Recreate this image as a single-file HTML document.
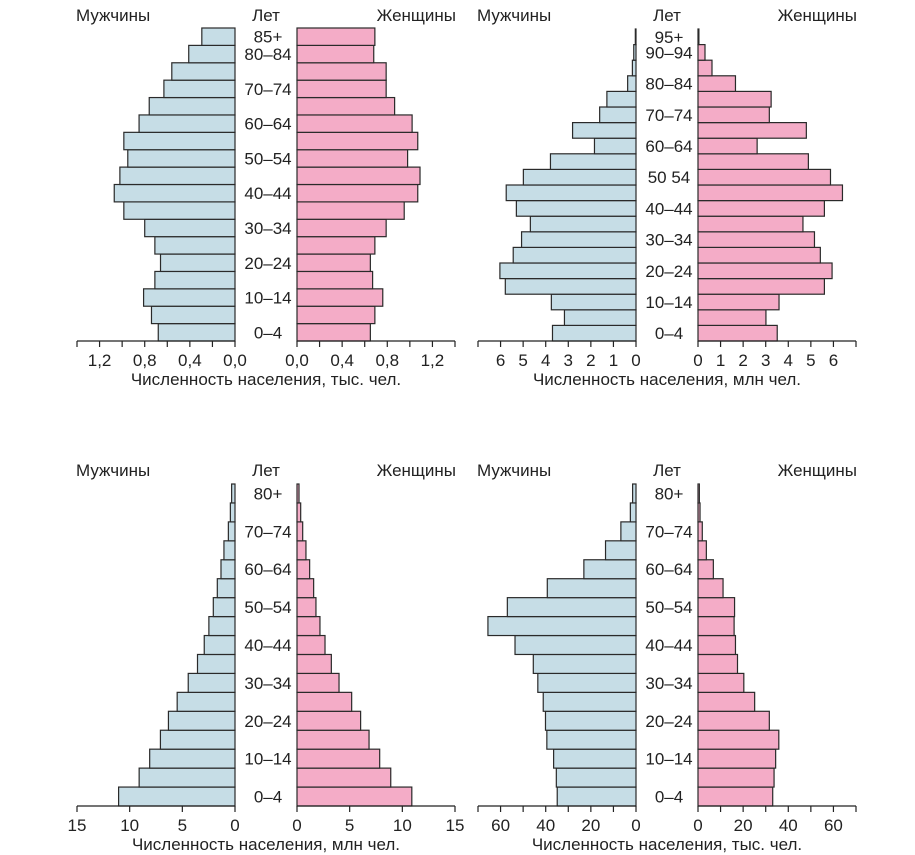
<!DOCTYPE html>
<html><head><meta charset="utf-8">
<style>
html,body{margin:0;padding:0;background:#fff;}
svg{display:block;font-family:"Liberation Sans","DejaVu Sans",sans-serif;}
text{fill:#222;}
</style></head>
<body>
<svg id="chart" width="915" height="855" viewBox="0 0 915 855" xmlns="http://www.w3.org/2000/svg"></svg>
<script>
// ---- Chart 1 data (18 age groups, youngest first), thousands
const c1Male = [0.68,0.74,0.81,0.71,0.66,0.71,0.80,0.985,1.07,1.02,0.95,0.985,0.85,0.76,0.63,0.56,0.41,0.294];
const c1Female = [0.65,0.69,0.76,0.67,0.65,0.69,0.79,0.95,1.07,1.09,0.98,1.07,1.02,0.865,0.79,0.79,0.68,0.69];
const c1AgeLabels = ["0–4","","10–14","","20–24","","30–34","","40–44","","50–54","","60–64","","70–74","","80–84","85+"];
const c1TickValues = [0,0.4,0.8,1.2];
const c1TickLabels = ["0,0","0,4","0,8","1,2"];
// ---- Chart 2 data (20 age groups), millions
const c2Male = [3.7,3.17,3.75,5.79,6.03,5.44,5.07,4.68,5.3,5.75,4.99,3.79,1.84,2.81,1.61,1.29,0.37,0.16,0.1,0.03];
const c2Female = [3.51,3.01,3.59,5.6,5.94,5.42,5.16,4.65,5.6,6.4,5.87,4.89,2.62,4.8,3.16,3.24,1.66,0.62,0.31,0.04];
const c2AgeLabels = ["0–4","","10–14","","20–24","","30–34","","40–44","","50  54","","60–64","","70–74","","80–84","","90–94","95+"];
const c2TickValues = [0,1,2,3,4,5,6];
const c2TickLabels = ["0","1","2","3","4","5","6"];
// ---- Chart 3 data (17 age groups), millions
const c3Male = [11.05,9.1,8.1,7.08,6.32,5.49,4.44,3.56,2.92,2.48,2.06,1.68,1.33,1.05,0.63,0.44,0.32];
const c3Female = [10.9,8.9,7.85,6.84,6.04,5.19,3.99,3.26,2.66,2.18,1.8,1.58,1.2,0.85,0.54,0.35,0.19];
const c3AgeLabels = ["0–4","","10–14","","20–24","","30–34","","40–44","","50–54","","60–64","","70–74","","80+"];
const c3TickValues = [0,5,10,15];
const c3TickLabels = ["0","5","10","15"];
// ---- Chart 4 data (17 age groups), thousands
const c4Male = [34.9,35.3,36.5,39.5,40.1,41.1,43.5,45.5,53.6,65.6,57,39.3,23.1,13.5,6.7,2.5,1.5];
const c4Female = [33.1,33.7,34.4,35.8,31.6,25.1,20.3,17.5,16.6,16,16.2,11.1,6.8,3.7,1.9,0.9,0.6];
const c4AgeLabels = ["0–4","","10–14","","20–24","","30–34","","40–44","","50–54","","60–64","","70–74","","80+"];
const c4TickValues = [0,20,40,60];
const c4TickLabels = ["0","20","40","60"];

const NS = "http://www.w3.org/2000/svg";
const svg = document.getElementById("chart");
const FS = 17;
function mk(tag, attrs, parent, txt){
  const e = document.createElementNS(NS, tag);
  for (const k in attrs) e.setAttribute(k, attrs[k]);
  if (txt !== undefined) e.textContent = txt;
  (parent||svg).appendChild(e);
  return e;
}

function drawPyramid(cfg, male, female, ages, tickVals, tickLabs, name){
  const g = mk("g", {});
  
  
  const n = male.length;
  const bh = (cfg.bottom - cfg.top) / n;
  const ppu = (cfg.mZero - cfg.mEnd) / cfg.max;
  const xm = v => cfg.mZero - v * ppu;
  const xf = v => cfg.fZero + v * ppu;
  const yb = i => cfg.bottom - (i + 1) * bh;
  for (let i = 0; i < n; i++){
    const r1 = mk("rect", {x: xm(male[i]), y: yb(i), width: male[i]*ppu, height: bh, fill:"#c6dde6", stroke:"#2a2a2a", "stroke-width":1.2}, g);
    
    
    const r2 = mk("rect", {x: cfg.fZero, y: yb(i), width: female[i]*ppu, height: bh, fill:"#f4acc7", stroke:"#2a2a2a", "stroke-width":1.2}, g);
    
    
    if (ages[i]){
      const t = mk("text", {x:(cfg.mZero+cfg.fZero)/2+2, y: yb(i)+bh/2+6, "text-anchor":"middle", "font-size":FS}, g, ages[i]);
      
      
    }
  }
  const ax = mk("path", {d:`M${cfg.mEnd},${cfg.bottom}H${cfg.mZero}M${cfg.fZero},${cfg.bottom}H${xf(cfg.max)}`, stroke:"#222", "stroke-width":1.3, fill:"none"}, g);
  
  
  for (let v = 0; v <= cfg.max + 1e-9; v += cfg.minor){
    mk("line", {x1:xm(v), x2:xm(v), y1:cfg.bottom, y2:cfg.bottom+6, stroke:"#222","stroke-width":1.2}, g);
    mk("line", {x1:xf(v), x2:xf(v), y1:cfg.bottom, y2:cfg.bottom+6, stroke:"#222","stroke-width":1.2}, g);
  }
  tickVals.forEach((v, i) => {
    const a = mk("text", {x:xm(v), y:cfg.bottom+25, "text-anchor":"middle","font-size":FS}, g, tickLabs[i]);
    
    
    const b = mk("text", {x:xf(v), y:cfg.bottom+25, "text-anchor":"middle","font-size":FS}, g, tickLabs[i]);
    
    
  });
  const t1 = mk("text", {x:cfg.mEnd-1, y:cfg.titleY, "font-size":FS}, g, "Мужчины");
  
  
  const t2 = mk("text", {x:(cfg.mZero+cfg.fZero)/2, y:cfg.titleY, "text-anchor":"middle","font-size":FS}, g, "Лет");
  
  
  const t3 = mk("text", {x:xf(cfg.max)+1, y:cfg.titleY, "text-anchor":"end","font-size":FS}, g, "Женщины");
  
  
  const t4 = mk("text", {x:(cfg.mZero+cfg.fZero)/2, y:cfg.bottom+44, "text-anchor":"middle","font-size":FS}, g, cfg.axisTitle);
  
  
}

drawPyramid({mZero:235,mEnd:77,fZero:297,max:1.4,minor:0.2,top:28,bottom:341,titleY:21,axisTitle:"Численность населения, тыс. чел."},
  c1Male,c1Female,c1AgeLabels,c1TickValues,c1TickLabels,"pyramid-1");
drawPyramid({mZero:636,mEnd:478,fZero:698,max:7,minor:1,top:29,bottom:341,titleY:21,axisTitle:"Численность населения, млн чел."},
  c2Male,c2Female,c2AgeLabels,c2TickValues,c2TickLabels,"pyramid-2");
drawPyramid({mZero:235,mEnd:77,fZero:297,max:15,minor:5,top:484,bottom:806,titleY:476,axisTitle:"Численность населения, млн чел."},
  c3Male,c3Female,c3AgeLabels,c3TickValues,c3TickLabels,"pyramid-3");
drawPyramid({mZero:636,mEnd:478,fZero:698,max:70,minor:10,top:484,bottom:806,titleY:476,axisTitle:"Численность населения, тыс. чел."},
  c4Male,c4Female,c4AgeLabels,c4TickValues,c4TickLabels,"pyramid-4");
</script>
</body></html>
